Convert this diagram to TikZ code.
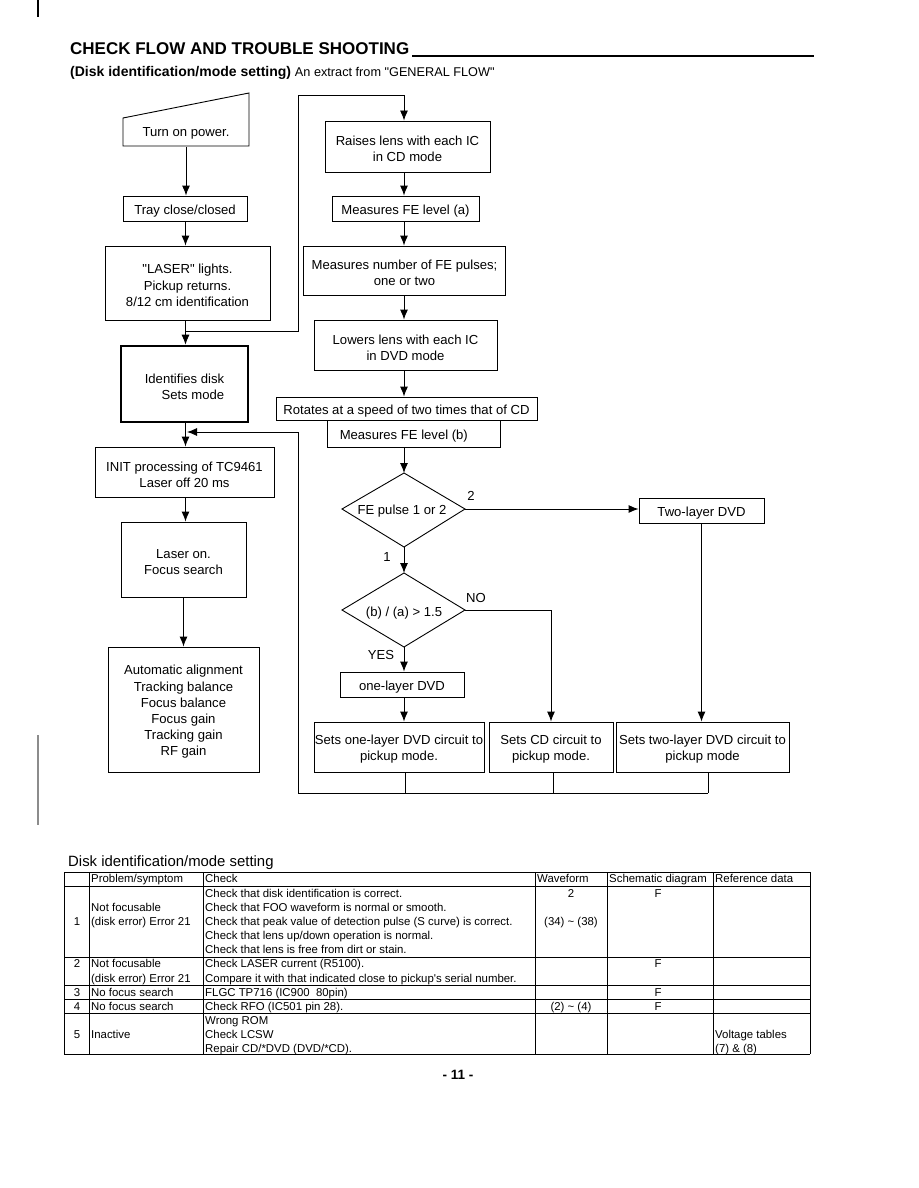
\documentclass[tikz,border=0pt]{standalone}
\usepackage{fontspec}
\setmainfont{Liberation Sans}[Ligatures=TeXOff]
\usetikzlibrary{arrows.meta}
\newcommand\ffont{\fontsize{13.1}{16.2}\selectfont}
\newcommand\tfont{\fontsize{11.4}{14.3}\selectfont}
\newcommand\sq{\symbol{34}}
\begin{document}
\begin{tikzpicture}[x=1pt,y=-1pt,
  box/.style={draw, line width=0.9pt, inner sep=0pt},
  lab/.style={font=\ffont, align=center, inner sep=0pt, yshift=-2.5pt},
  ln/.style={line width=0.9pt},
  arr/.style={line width=0.9pt, -{Latex[length=10pt,width=8pt]}},
  lbl/.style={font=\ffont, inner sep=0pt},
  tl/.style={font=\tfont, inner sep=0pt, anchor=base west},
  tc/.style={font=\tfont, inner sep=0pt, anchor=base},
  grid/.style={line width=0.8pt}]
\fill[white] (0,0) rectangle (918,1188);
\useasboundingbox (0,0) rectangle (918,1188);

% margin marks
\draw[line width=1.5pt] (38,0) -- (38,17);
\draw[line width=1.5pt, black!45] (38,735) -- (38,825);

% title
\node[anchor=base west, inner sep=0pt, font=\fontsize{17}{20}\selectfont\bfseries] (title) at (70,55) {CHECK FLOW AND TROUBLE SHOOTING};
\draw[line width=1.3pt] (412,56) -- (814,56);
\node[anchor=base west, inner sep=0pt] (sub) at (70,77) {\fontsize{14}{16}\selectfont\bfseries (Disk identification/mode setting) \fontsize{12.7}{15}\selectfont\mdseries An extract from \sq GENERAL FLOW\sq};

% coordinates for columns
\coordinate (lx) at (185.5,0);
\coordinate (mx) at (404,0);

% left column
\node[lbl, minimum width=126pt, minimum height=28pt] (power) at (186,133) {Turn on power.};
\draw[ln] (123,118) -- (249,93) -- (249,146) -- (123,146) -- cycle;
\node[box, minimum width=124pt, minimum height=25pt, label={[lab]center:{Tray close/closed}}] (tray) at (185,208.5) {};
\node[box, minimum width=165pt, minimum height=74pt, label={[lab]center:{\sq LASER\sq{} lights.\\ Pickup returns.\\8/12 cm identification}}] (laser) at (187.5,283) {};
\node[box, line width=2.6pt, minimum width=127pt, minimum height=76pt, label={[lab, align=right]center:{Identifies disk\\Sets mode}}] (ident) at (184.5,384) {};
\node[box, minimum width=179pt, minimum height=50pt, label={[lab]center:{INIT processing of TC9461\\Laser off 20 ms}}] (init) at (184.5,472) {};
\node[box, minimum width=125pt, minimum height=75pt, label={[lab]center:{Laser on.\\ Focus search}}] (lon) at (183.5,559.5) {};
\node[box, minimum width=151pt, minimum height=125pt, label={[lab]center:{Automatic alignment\\ Tracking balance\\ Focus balance\\ Focus gain\\ Tracking gain\\ RF gain}}] (auto) at (183.5,709.5) {};

\draw[arr] (power.south) -- (power.south |- tray.north);
\draw[arr] (tray.south -| lx) -- (laser.north -| lx);
\draw[arr] (laser.south -| lx) -- (ident.north -| lx);
\draw[arr] (ident.south -| lx) -- (init.north -| lx);
\draw[arr] (init.south -| lx) -- (lon.north -| lx);
\draw[arr] (lon.south) -- (auto.north);

% middle column
\node[box, minimum width=165pt, minimum height=51pt, label={[lab]center:{Raises lens with each IC\\in CD mode}}] (raise) at (407.5,146.5) {};
\node[box, minimum width=147pt, minimum height=25pt, label={[lab]center:{Measures FE level (a)}}] (fea) at (405.5,208.5) {};
\node[box, minimum width=202pt, minimum height=49pt, label={[lab]center:{Measures number of FE pulses;\\one or two}}] (num) at (404.5,270.5) {};
\node[box, minimum width=183pt, minimum height=50pt, label={[lab]center:{Lowers lens with each IC\\in DVD mode}}] (lower) at (405.5,345) {};
\node[box, minimum width=261pt, minimum height=23pt, label={[lab]center:{Rotates at a speed of two times that of CD}}] (rot) at (406.5,408.5) {};
\node[box, minimum width=173pt, minimum height=27pt, label={[lab, anchor=west, xshift=13pt]west:{Measures FE level (b)}}] (feb) at (413.5,433.5) {};

% loop from left to middle
\coordinate (j1) at (185.5,331);
\coordinate (c1) at (298,95);
\draw[arr] (j1) -- (j1 -| c1) -- (c1) -| (raise.north -| mx);

\draw[arr] (raise.south -| mx) -- (fea.north -| mx);
\draw[arr] (fea.south -| mx) -- (num.north -| mx);
\draw[arr] (num.south -| mx) -- (lower.north -| mx);
\draw[arr] (lower.south -| mx) -- (rot.north -| mx);

% diamonds
\coordinate (d1t) at (404,473); \coordinate (d1r) at (465,509);
\coordinate (d1b) at (404,547); \coordinate (d1l) at (342,509);
\draw[ln] (d1t) -- (d1r) -- (d1b) -- (d1l) -- cycle;
\node[lbl] (d1) at (402,511) {FE pulse 1 or 2};
\coordinate (d2t) at (404,573); \coordinate (d2r) at (465,610);
\coordinate (d2b) at (404,647); \coordinate (d2l) at (342,610);
\draw[ln] (d2t) -- (d2r) -- (d2b) -- (d2l) -- cycle;
\node[lbl] (d2) at (404,613) {(b) / (a) > 1.5};

\node[box, minimum width=125pt, minimum height=25pt, label={[lab]center:{Two-layer DVD}}] (two) at (701.5,510.5) {};
\node[box, minimum width=124pt, minimum height=25pt, label={[lab]center:{one-layer DVD}}] (one) at (402,684.5) {};
\node[box, minimum width=170pt, minimum height=50pt, label={[lab]center:{Sets one-layer DVD circuit to\\pickup mode.}}] (s1) at (399,747) {};
\node[box, minimum width=124pt, minimum height=50pt, label={[lab]center:{Sets CD circuit to\\pickup mode.}}] (s2) at (551,747) {};
\node[box, minimum width=173pt, minimum height=50pt, label={[lab]center:{Sets two-layer DVD circuit to\\pickup mode}}] (s3) at (702.5,747) {};

\draw[arr] (feb.south -| mx) -- (d1t);
\draw[arr] (d1r) -- (d1r -| two.west);
\draw[arr] (d1b) -- (d2t);
\draw[arr] (d2b) -- (d2b |- one.north);
\draw[arr] (d2r) -| (s2.north);
\draw[arr] (two.south) -- (two.south |- s3.north);
\draw[arr] (one.south -| mx) -- (s1.north -| mx);

\node[lbl] (l2) at (471,496) {2};
\node[lbl] (l1) at (387,557) {1};
\node[lbl] (lno) at (476,598) {NO};
\node[lbl] (lyes) at (381,655) {YES};

% bottom return loop
\coordinate (b0) at (298,793);
\coordinate (t1) at (405,0); \coordinate (t2) at (553,0); \coordinate (t3) at (708,0);
\draw[ln] (s1.south -| t1) -- (t1 |- b0);
\draw[ln] (s2.south -| t2) -- (t2 |- b0);
\draw[ln] (s3.south -| t3) -- (t3 |- b0);
\draw[ln] (b0) -- (b0 -| t3);
\coordinate (ret) at (187,432);
\draw[arr] (b0) |- (ret);

% table
\node[anchor=base west, inner sep=0pt, font=\fontsize{14.9}{17}\selectfont] (ttitle) at (68,866) {Disk identification/mode setting};
\foreach \y in {872,886,957,985,999,1013,1054} \draw[grid] (64,\y) -- (810,\y);
\foreach \x in {64,89,203,535,607,713,810} \draw[grid] (\x,872) -- (\x,1054);

\node[tl] at (91,882) {Problem/symptom};
\node[tl] at (205,882) {Check};
\node[tl] at (537,882) {Waveform};
\node[tl] at (609,882) {Schematic diagram};
\node[tl] at (715,882) {Reference data};

\node[tc] at (77,925) {1};
\node[tl] at (91,911) {Not focusable};
\node[tl] at (91,925) {(disk error) Error 21};
\node[tl] at (205,897) {Check that disk identification is correct.};
\node[tl] at (205,911) {Check that FOO waveform is normal or smooth.};
\node[tl] at (205,925) {Check that peak value of detection pulse (S curve) is correct.};
\node[tl] at (205,939) {Check that lens up/down operation is normal.};
\node[tl] at (205,953) {Check that lens is free from dirt or stain.};
\node[tc] at (571,897) {2};
\node[tc] at (571,925) {(34) \textasciitilde{} (38)};
\node[tc] at (658,897) {F};

\node[tc] at (77,967) {2};
\node[tl] at (91,967) {Not focusable};
\node[tl] at (91,982) {(disk error) Error 21};
\node[tl] at (205,967) {Check LASER current (R5100).};
\node[tl] at (205,982) {Compare it with that indicated close to pickup's serial number.};
\node[tc] at (658,967) {F};

\node[tc] at (77,996) {3};
\node[tl] at (91,996) {No focus search};
\node[tl] at (205,996) {FLGC TP716 (IC900\ \ 80pin)};
\node[tc] at (658,996) {F};

\node[tc] at (77,1010) {4};
\node[tl] at (91,1010) {No focus search};
\node[tl] at (205,1010) {Check RFO (IC501 pin 28).};
\node[tc] at (571,1010) {(2) \textasciitilde{} (4)};
\node[tc] at (658,1010) {F};

\node[tc] at (77,1038) {5};
\node[tl] at (91,1038) {Inactive};
\node[tl] at (205,1024) {Wrong ROM};
\node[tl] at (205,1038) {Check LCSW};
\node[tl] at (205,1052) {Repair CD/*DVD (DVD/*CD).};
\node[tl] at (715,1038) {Voltage tables};
\node[tl] at (715,1052) {(7) \& (8)};

\node[anchor=center, inner sep=0pt, font=\fontsize{13.5}{16}\selectfont\bfseries] (page) at (458,1075) {- 11 -};
\end{tikzpicture}
\end{document}
